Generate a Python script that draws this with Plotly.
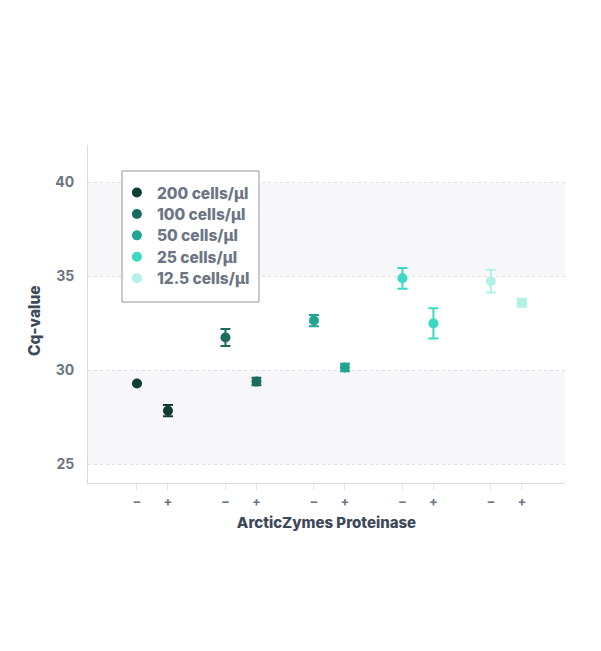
import plotly.graph_objects as go

series_names = ["200 cells/µl", "100 cells/µl", "50 cells/µl", "25 cells/µl", "12.5 cells/µl"]
colors = ["#0f3d34", "#1b6b5f", "#23a393", "#3bd9c5", "#b3f1e7"]
minus_vals = [29.3, 31.75, 32.65, 34.9, 34.75]
plus_vals = [27.85, 29.4, 30.15, 32.5, 33.6]
minus_err = [0.0, 0.45, 0.3, 0.55, 0.6]
plus_err = [0.3, 0.2, 0.2, 0.8, 0.0]
plus_symbols = ["circle", "circle", "circle", "circle", "square"]
tick_labels = ["−", "+"]

group_step = 2.855
legend_top, legend_step = 0.858, 0.0633  # paper y of first legend row, row spacing

fig = go.Figure()
tickvals, ticktext = [], []
legend_layout = {}
for i, name in enumerate(series_names):
    xs = [i * group_step, i * group_step + 1]
    tickvals += xs
    ticktext += tick_labels
    lname = "legend" if i == 0 else f"legend{i + 1}"
    fig.add_trace(go.Scatter(
        x=xs, y=[minus_vals[i], plus_vals[i]], mode="markers", name=name,
        legend=lname,
        marker=dict(color=colors[i], size=10, symbol=["circle", plus_symbols[i]]),
        error_y=dict(type="data", array=[minus_err[i], plus_err[i]], visible=True,
                     color=colors[i], thickness=2, width=5),
    ))
    legend_layout[lname] = dict(
        x=0.0606, y=legend_top - i * legend_step, xanchor="left", yanchor="middle",
        borderwidth=0, bgcolor="rgba(0,0,0,0)",
        font=dict(size=15.5, color="#6b7583", family="Inter, sans-serif", weight=800))

for y0, y1 in [(25, 30), (35, 40)]:
    fig.add_shape(type="rect", xref="paper", yref="y", x0=0, x1=1, y0=y0, y1=y1,
                  fillcolor="#f7f7f9", line=dict(width=0), layer="below")

# legend frame
fig.add_shape(type="rect", xref="paper", yref="paper", x0=0.0713, x1=0.3585,
              y0=0.5355, y1=0.923, fillcolor="white",
              line=dict(color="#8f98a3", width=1), layer="above")

fig.add_annotation(text="Cq-value", xref="paper", yref="paper", x=-0.1132, y=0.479,
                   textangle=-90, showarrow=False, xanchor="center", yanchor="middle",
                   font=dict(size=15.5, color="#3d4858", family="Inter, sans-serif", weight=800))

fig.update_layout(
    width=601, height=651,
    margin=dict(l=80, r=44, t=137, b=176, autoexpand=False),
    plot_bgcolor="white", paper_bgcolor="white",
    font=dict(family="Inter, Roboto, sans-serif", color="#6b7583"),
    showlegend=True,
    xaxis=dict(range=[-1.58, 13.81], tickvals=tickvals, ticktext=ticktext,
               showgrid=False, zeroline=False, showline=True, linecolor="#d7d9de",
               linewidth=1, ticks="outside", ticklen=6, tickcolor="#e3e5e8",
               tickfont=dict(size=13, color="#6b7583", weight="bold"),
               title=dict(text="ArcticZymes Proteinase", standoff=9,
                          font=dict(size=15, color="#3d4858", weight=800))),
    yaxis=dict(range=[24, 42], tickvals=[25, 30, 35, 40], showgrid=True,
               gridcolor="#e0e1e5", griddash="dot", gridwidth=1, zeroline=False,
               showline=True, linecolor="#d7d9de", linewidth=1, ticks="",
               ticklabelstandoff=10,
               tickfont=dict(size=14, color="#6b7583", weight="bold")),
    **legend_layout,
)

fig.write_html("out.html")
